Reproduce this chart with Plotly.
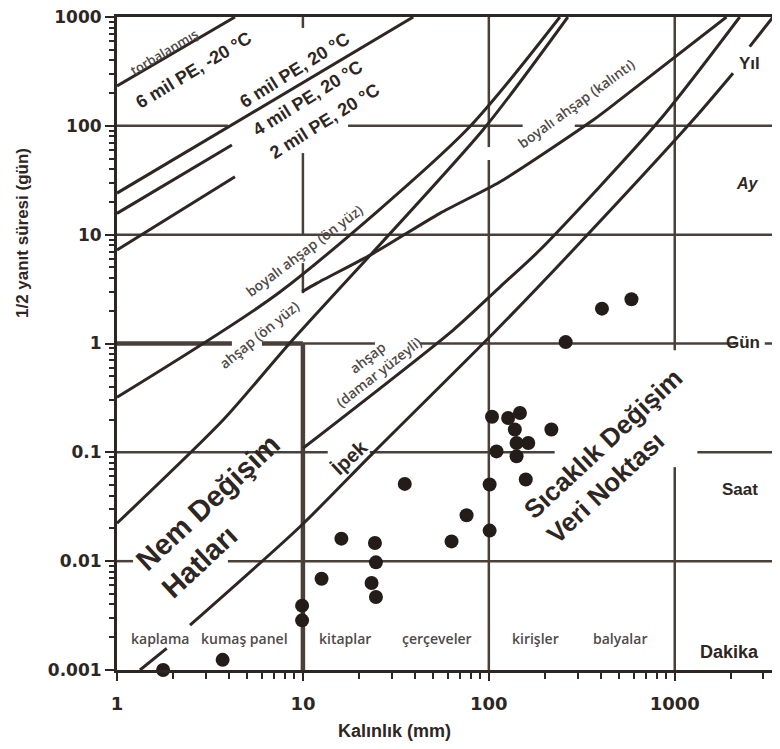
import plotly.graph_objects as go

# ---------------- data ----------------
torbalanmis_x = [1.0, 4.31]
torbalanmis_y = [232, 1000]
pe6_x = [1.0, 39.2]
pe6_y = [24.1, 1000]
pe4_x = [1.0, 4.15]
pe4_y = [15.7, 66.6]
pe2_x = [1.0, 4.31]
pe2_y = [7.22, 34.0]
boyali_on_x = [1.0, 7.52, 75.9, 241]
boyali_on_y = [0.321, 2.97, 91.5, 1000]
ahsap_on_x = [1.0, 3.72, 8.51, 92.9, 266]
ahsap_on_y = [0.0223, 0.198, 1.01, 91.5, 1000]
kalinti_x = [9.9, 11.85, 23.9, 54.5, 115, 364, 506, 1897]
kalinti_y = [2.99, 3.57, 6.73, 15.7, 30.6, 113, 173, 1000]
damar_x = [10.0, 64.3, 115, 188, 830, 2236]
damar_y = [0.109, 1.33, 3.32, 7.22, 113, 1000]
ipek_x = [1.33, 1.85, None, 2.47, 9.64, 23.8, 110, 284, 1254, 2058, None, 2530, 3377]
ipek_y = [0.001, 0.00158, None, 0.00258, 0.0207, 0.0984, 1.33, 7.22, 113, 304, None, 534, 1000]

veri_x = [1.77, 3.70, 9.9, 9.9, 12.6, 16.1, 24.4, 24.7, 23.4, 24.7, 35.3, 63, 75.9, 101, 101,
          158, 104, 127, 147, 138, 163, 141, 141, 110, 217, 259, 406, 585]
veri_y = [0.001, 0.00124, 0.0039, 0.00286, 0.0069, 0.0161, 0.0147, 0.00975, 0.0063, 0.00468,
          0.0513, 0.0152, 0.0264, 0.0191, 0.0506, 0.0562, 0.212, 0.207, 0.230, 0.162, 0.122,
          0.122, 0.092, 0.102, 0.162, 1.03, 2.09, 2.55]

x_tickvals = [1, 10, 100, 1000]
x_ticktext = ["1", "10", "100", "1000"]
y_tickvals = [0.001, 0.01, 0.1, 1, 10, 100, 1000]
y_ticktext = ["0.001", "0.01", "0.1", "1", "10", "100", "1000"]

kategoriler = ["kaplama", "kumaş panel", "kitaplar", "çerçeveler", "kirişler", "balyalar"]
zaman_etiketleri = ["Yıl", "Ay", "Gün", "Saat", "Dakika"]

X_MAX = 3377

# ---------------- styling ----------------
INK = "#2e2622"
GRID = "#4a403a"
GREY = "#4f4a47"
BOLD_FONT = "Liberation Sans Narrow, Liberation Sans, Arial, sans-serif"
TICK_FONT = "DejaVu Sans, Liberation Sans, sans-serif"
SEMI_FONT = "Open Sans, Liberation Sans, sans-serif"

# page offset of the figure (browser body margin) and target plot area in screen pixels
OFF = 8
W, H = 780 - OFF, 749 - OFF
L, R, T, B = 117, 773.3, 17, 670


def px(x, y):
    return (x - L) / (R - L), (B - y) / (B - T)


fig = go.Figure()

# grid segments (with the gaps of the original drawing)
h_grid = [
    (100, [(1, 3.95), (17.5, 152), (290, X_MAX)], 2.5),
    (10, [(1, X_MAX)], 2.5),
    (1, [(1, 4.15), (6.02, 10)], 4.5),
    (1, [(10, 24.4), (42.6, 2128), (3048, X_MAX)], 2.5),
    (0.1, [(1, 13.6), (22.9, 226), (1324, X_MAX)], 2.5),
    (0.01, [(1, 1.22), (3.95, X_MAX)], 2.5),
]
v_grid = [
    (10, [(793, 1000), (10, 56.2), (2.9, 5.48)], 2.5),
    (10, [(0.001, 1)], 4.5),
    (100, [(63.8, 1000), (0.001, 48.5)], 2.5),
    (1000, [(0.869, 1000), (0.001, 0.0731)], 2.5),
]
for yv, segs, w in h_grid:
    xs, ys = [], []
    for a, b in segs:
        xs += [a, b, None]
        ys += [yv, yv, None]
    fig.add_trace(go.Scatter(x=xs, y=ys, mode="lines", line=dict(color=GRID, width=w),
                             hoverinfo="skip", showlegend=False))
for xv, segs, w in v_grid:
    xs, ys = [], []
    for a, b in segs:
        xs += [xv, xv, None]
        ys += [a, b, None]
    fig.add_trace(go.Scatter(x=xs, y=ys, mode="lines", line=dict(color=GRID, width=w),
                             hoverinfo="skip", showlegend=False))

# moisture-response lines
straight = [(torbalanmis_x, torbalanmis_y), (pe6_x, pe6_y), (pe4_x, pe4_y), (pe2_x, pe2_y)]
for xs, ys in straight:
    fig.add_trace(go.Scatter(x=xs, y=ys, mode="lines", line=dict(color=INK, width=3),
                             showlegend=False))
curved = [(boyali_on_x, boyali_on_y), (ahsap_on_x, ahsap_on_y), (kalinti_x, kalinti_y),
          (damar_x, damar_y), (ipek_x, ipek_y)]
for xs, ys in curved:
    fig.add_trace(go.Scatter(x=xs, y=ys, mode="lines",
                             line=dict(color=INK, width=3, shape="spline", smoothing=0.7),
                             connectgaps=False, showlegend=False))

# temperature data points
fig.add_trace(go.Scatter(x=veri_x, y=veri_y, mode="markers",
                         marker=dict(color="#231c19", size=14),
                         cliponaxis=False, showlegend=False))

ann = []


def add_text(text, x, y, size, angle=0, font=BOLD_FONT, color=INK, weight="bold", align="center"):
    xp, yp = px(x, y)
    ann.append(dict(text=text, x=xp, y=yp, xref="paper", yref="paper", showarrow=False,
                    xanchor="center", yanchor="middle", textangle=angle, align=align,
                    font=dict(family=font, size=size, color=color, weight=weight)))


# line labels
add_text("torbalanmış", 164, 52, 13, -31, SEMI_FONT, GREY, 600)
add_text("6 mil PE, -20 °C", 194, 70, 18, -31)
add_text("6 mil PE, 20 °C", 295, 70, 18, -32)
add_text("4 mil PE, 20 °C", 308, 98, 18, -32)
add_text("2 mil PE, 20 °C", 325, 121, 18, -32)
add_text("boyalı ahşap (ön yüz)", 304, 250, 14, -37, SEMI_FONT, GREY, 600)
add_text("ahşap (ön yüz)", 259, 334, 14, -39, SEMI_FONT, GREY, 600)
add_text("ahşap<br>(damar yüzeyli)", 373, 364, 14, -38, SEMI_FONT, GREY, 600)
add_text("boyalı ahşap (kalıntı)", 576, 103, 14, -36, SEMI_FONT, GREY, 600)
add_text("İpek", 350, 457, 20, -43)
add_text("Nem Değişim<br>Hatları", 221, 516, 29, -43, align="left")
add_text("Sıcaklık Değişim<br>Veri Noktası", 615, 456, 26, -43, align="left")

# category labels along the bottom
for t, xpos in zip(kategoriler, [160, 245, 345, 437, 536, 620]):
    add_text(t, xpos, 638, 14, 0, SEMI_FONT, GREY, 600)

# time labels on the right
for t, (xpos, ypos), s in zip(zaman_etiketleri,
                              [(750, 63), (748, 183), (743, 342), (740, 490), (730, 652)],
                              [17, 16, 17, 17, 18]):
    if t == "Ay":
        xp, yp = px(xpos, ypos)
        ann.append(dict(text="<i>Ay</i>", x=xp, y=yp, xref="paper", yref="paper",
                        showarrow=False, xanchor="center", yanchor="middle",
                        font=dict(family=BOLD_FONT, size=s, color=INK, weight="bold")))
    else:
        add_text(t, xpos, ypos, s)

# axis titles
add_text("1/2 yanıt süresi (gün)", 22, 233, 17, -90)
add_text("Kalınlık (mm)", 395, 731, 18, 0)

fig.update_layout(
    width=W, height=H,
    margin=dict(l=L - OFF, r=W - (R - OFF), t=T - OFF, b=H - (B - OFF), autoexpand=False),
    plot_bgcolor="white", paper_bgcolor="white",
    annotations=ann,
    showlegend=False,
)
fig.update_xaxes(
    type="log", range=[0, 3.5285], showgrid=False, zeroline=False, automargin=False,
    showline=True, linecolor=INK, linewidth=3, mirror=True,
    tickvals=x_tickvals, ticktext=x_ticktext, ticks="outside", ticklen=8, tickwidth=2,
    tickcolor=INK, ticklabelstandoff=7, ticklabeloverflow="allow",
    tickfont=dict(family=TICK_FONT, size=18, color=INK, weight="bold"),
    minor=dict(ticks="outside", ticklen=6, tickwidth=2, tickcolor=INK, dtick="D1", showgrid=False),
)
fig.update_yaxes(
    type="log", range=[-3, 3], showgrid=False, zeroline=False, automargin=False,
    showline=True, linecolor=INK, linewidth=3, mirror=True,
    tickvals=y_tickvals, ticktext=y_ticktext, ticks="outside", ticklen=9, tickwidth=2,
    tickcolor=INK, ticklabeloverflow="allow",
    tickfont=dict(family=TICK_FONT, size=17, color=INK, weight="bold"),
    minor=dict(ticks="outside", ticklen=5, tickwidth=2, tickcolor=INK, dtick="D1", showgrid=False),
)

fig.write_html("out.html")
